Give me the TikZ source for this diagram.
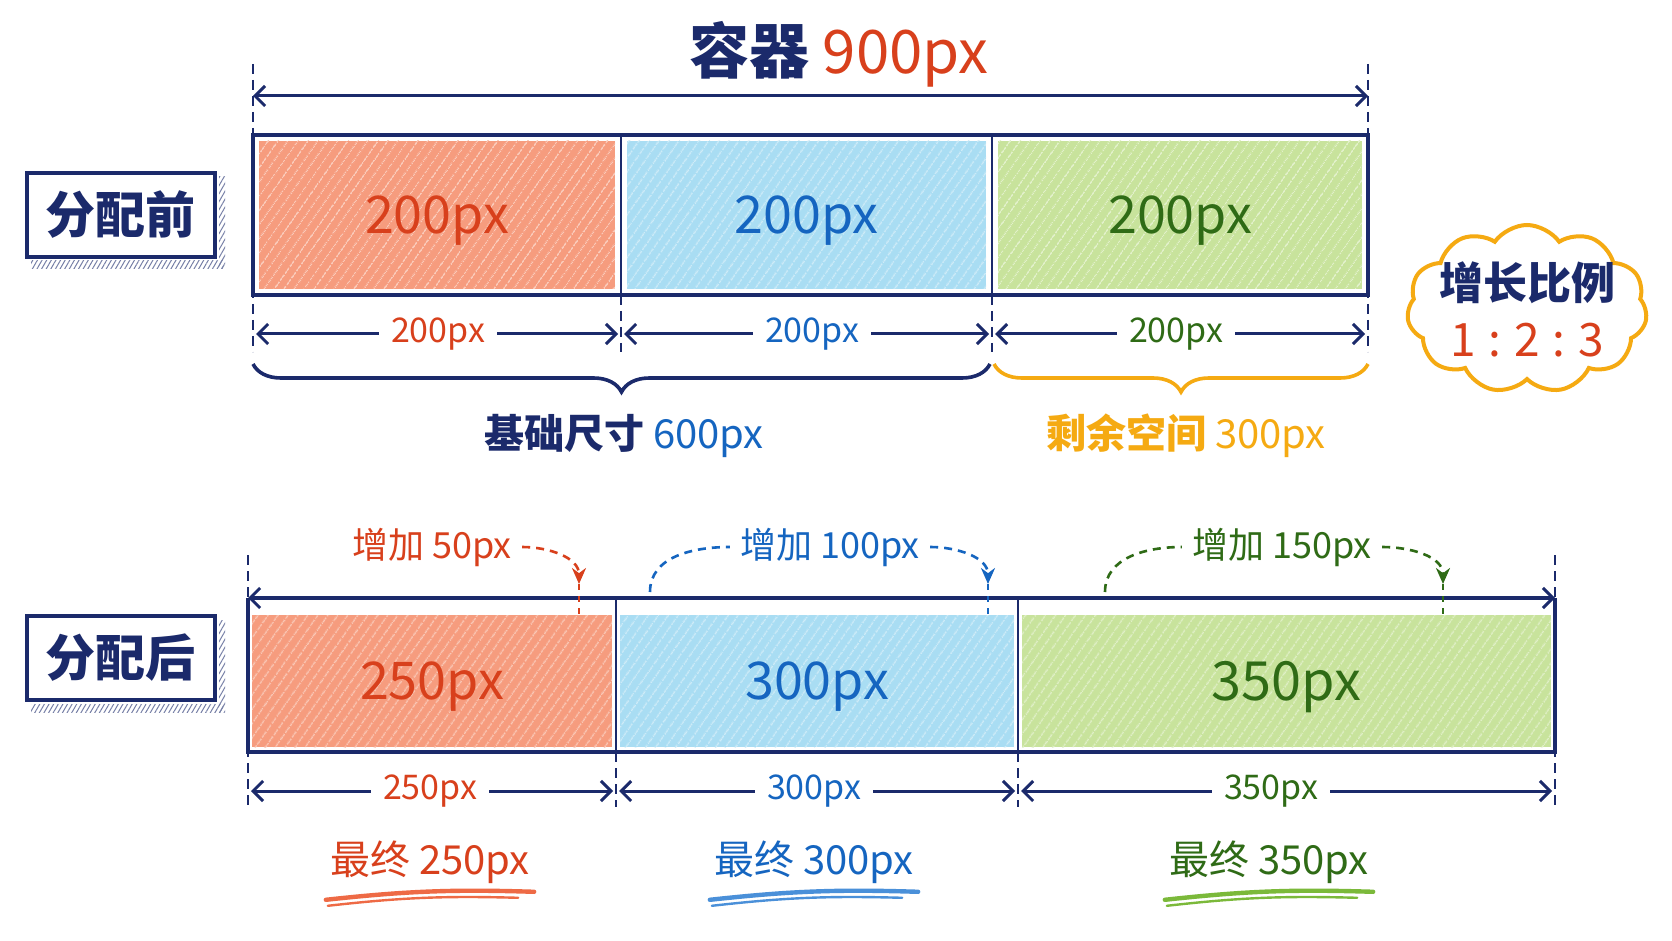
\documentclass[tikz,border=0pt]{standalone}
\usepackage{fontspec}
\setmainfont{Noto Sans CJK SC}
\usetikzlibrary{arrows.meta,decorations.pathreplacing,shapes.symbols,patterns.meta}

\definecolor{navy}{HTML}{1B2A6B}
\definecolor{redtext}{HTML}{D8401C}
\definecolor{bluetext}{HTML}{1565C0}
\definecolor{greentext}{HTML}{2F6B16}
\definecolor{orangeline}{HTML}{F5AA12}
\definecolor{redfill}{HTML}{F69C7E}
\definecolor{bluefill}{HTML}{A9DDF3}
\definecolor{greenfill}{HTML}{C8E39C}
\definecolor{redstroke}{HTML}{EE6A45}
\definecolor{bluestroke}{HTML}{4A90D9}
\definecolor{greenstroke}{HTML}{7BB93A}

\begin{document}
\begin{tikzpicture}[
    x=0.5pt, y=-0.5pt,
    seg/.style={fill=#1, inner sep=0pt, text depth=0pt, font=\fontsize{26}{28}\selectfont,
        postaction={pattern={Lines[angle=55, distance=4pt, line width=0.6pt]},
            pattern color=#1!55!white}},
    frame/.style={navy, line width=2pt},
    divider/.style={navy, line width=1.2pt},
    dimarrow/.style={navy, line width=1.5pt, arrows={-Straight Barb[length=5pt, width=10pt, line width=1.5pt]}},
    bothbarb/.style={navy, arrows={Straight Barb[length=5pt, width=10pt, line width=1.5pt]-Straight Barb[length=5pt, width=10pt, line width=1.5pt]}},
    dimlabel/.style={inner sep=6pt, font=\fontsize{17}{19}\selectfont},
    guide/.style={navy, line width=0.8pt, dash pattern=on 5pt off 3pt},
    tag/.style={draw=navy, line width=2pt, fill=white, minimum width=94pt,
        minimum height=42pt, font=\fontsize{25}{27}\selectfont\bfseries, text=navy},
    shadowbox/.style={pattern={Lines[angle=60, distance=2pt, line width=0.5pt]}, pattern color=navy!60},
    bracket/.style={decorate, decoration={brace, amplitude=14pt, mirror}, line width=1.8pt},
    growarrow/.style={line width=1.3pt, dash pattern=on 4pt off 3pt, -{Stealth[length=8pt, width=7pt]}},
    growstart/.style={line width=1.3pt, dash pattern=on 4pt off 3pt},
    growmark/.style={line width=0.9pt, dash pattern=on 3pt off 3pt},
    growlabel/.style={inner sep=5pt, font=\fontsize{18}{20}\selectfont},
    final/.style={inner sep=2pt, font=\fontsize{20}{22}\selectfont},
    ustroke/.style={line width=2.2pt, line cap=round},
    ustrokethin/.style={line width=1.2pt, line cap=round}
]
    \useasboundingbox (0,0) rectangle (1672,941);
    \fill[white] (0,0) rectangle (1672,941);

    \node[font=\fontsize{30}{32}\selectfont\bfseries, text=navy] (title) at (839,54)
        {容器 \textcolor{redtext}{\mdseries 900px}};

    \coordinate (tl) at (253,96);
    \coordinate (tr) at (1368,96);
    \draw[bothbarb, line width=1.5pt] (tl) -- (tr);

    \draw[guide] (253,64) -- (253,352);
    \draw[guide] (1368,64) -- (1368,352);
    \draw[guide] (621,295) -- (621,352);
    \draw[guide] (992,295) -- (992,352);

    \node[tag] (before) at (121,215) {分配前};
    \fill[shadowbox] ([xshift=3pt, yshift=-1pt]before.south west) rectangle ([xshift=3pt, yshift=-5pt]before.south east);
    \fill[shadowbox] ([xshift=1pt, yshift=-5pt]before.south east) rectangle ([xshift=4pt, yshift=-3pt]before.north east);

    \node[seg=redfill, minimum width=178pt, minimum height=74pt, text=redtext] (s1) at (437,215) {200px};
    \node[seg=bluefill, minimum width=179.5pt, minimum height=74pt, text=bluetext] (s2) at (806.5,215) {200px};
    \node[seg=greenfill, minimum width=182pt, minimum height=74pt, text=greentext] (s3) at (1180,215) {200px};
    \draw[frame] (253,135) rectangle (1368,295);
    \draw[divider] (621,135) -- (621,295);
    \draw[divider] (992,135) -- (992,295);

    \coordinate (a0) at (256,334);
    \coordinate (a1) at (618,334);
    \coordinate (a2) at (624,334);
    \coordinate (a3) at (989,334);
    \coordinate (a4) at (995,334);
    \coordinate (a5) at (1365,334);
    \node[dimlabel, text=redtext] (d1) at (438,334) {200px};
    \node[dimlabel, text=bluetext] (d2) at (812,334) {200px};
    \node[dimlabel, text=greentext] (d3) at (1176,334) {200px};
    \draw[dimarrow] (d1.west) -- (a0);
    \draw[dimarrow] (d1.east) -- (a1);
    \draw[dimarrow] (d2.west) -- (a2);
    \draw[dimarrow] (d2.east) -- (a3);
    \draw[dimarrow] (d3.west) -- (a4);
    \draw[dimarrow] (d3.east) -- (a5);

    \draw[bracket, navy] (253,364) -- (990,364);
    \draw[bracket, orangeline] (994,364) -- (1368,364);
    \node[font=\fontsize{20}{22}\selectfont\bfseries, text=navy] (base) at (624,436)
        {基础尺寸 \textcolor{bluetext}{\mdseries 600px}};
    \node[font=\fontsize{20}{22}\selectfont\bfseries, text=orangeline] (rest) at (1186,436)
        {剩余空间 {\mdseries 300px}};

    \node[cloud, cloud puffs=11, cloud puff arc=110, aspect=1.4, draw=orangeline, line width=2pt,
        fill=white, minimum width=120pt, minimum height=84pt, inner sep=0pt] (ratio) at (1527,309) {};
    \node[font=\fontsize{22}{24}\selectfont\bfseries, text=navy] (ratiotitle) at (1527,283) {增长比例};
    \node[font=\fontsize{23}{25}\selectfont, text=redtext] (ratiovalue) at (1527,340) {1\;:\;2\;:\;3};

    \draw[guide] (248,555) -- (248,807);
    \draw[guide] (1555,555) -- (1555,807);
    \draw[guide] (616,752) -- (616,807);
    \draw[guide] (1018,752) -- (1018,807);

    \node[tag] (after) at (121,658) {分配后};
    \fill[shadowbox] ([xshift=3pt, yshift=-1pt]after.south west) rectangle ([xshift=3pt, yshift=-5pt]after.south east);
    \fill[shadowbox] ([xshift=1pt, yshift=-5pt]after.south east) rectangle ([xshift=4pt, yshift=-3pt]after.north east);

    \node[seg=redfill, minimum width=180pt, minimum height=66pt, text=redtext] (f1) at (432,681) {250px};
    \node[seg=bluefill, minimum width=197pt, minimum height=66pt, text=bluetext] (f2) at (817,681) {300px};
    \node[seg=greenfill, minimum width=264.5pt, minimum height=66pt, text=greentext, font=\fontsize{27}{29}\selectfont] (f3) at (1286.5,681) {350px};
    \coordinate (bl) at (248,598);
    \coordinate (br) at (1555,598);
    \draw[frame] (bl) -- (248,752) -- (1555,752) -- (br);
    \draw[bothbarb, line width=2pt] (bl) -- (br);
    \draw[divider] (616,598) -- (616,752);
    \draw[divider] (1018,598) -- (1018,752);

    \coordinate (c0) at (251,791);
    \coordinate (c1) at (613,791);
    \coordinate (c2) at (619,791);
    \coordinate (c3) at (1015,791);
    \coordinate (c4) at (1021,791);
    \coordinate (c5) at (1552,791);
    \node[dimlabel, text=redtext] (e1) at (430,791) {250px};
    \node[dimlabel, text=bluetext] (e2) at (814,791) {300px};
    \node[dimlabel, text=greentext] (e3) at (1271,791) {350px};
    \draw[dimarrow] (e1.west) -- (c0);
    \draw[dimarrow] (e1.east) -- (c1);
    \draw[dimarrow] (e2.west) -- (c2);
    \draw[dimarrow] (e2.east) -- (c3);
    \draw[dimarrow] (e3.west) -- (c4);
    \draw[dimarrow] (e3.east) -- (c5);

    \node[growlabel, text=redtext] (g1) at (432,547) {增加 50px};
    \node[growlabel, text=bluetext] (g2) at (830,547) {增加 100px};
    \node[growlabel, text=greentext] (g3) at (1282,547) {增加 150px};
    \coordinate (m1) at (579,584);
    \coordinate (m1b) at (579,614);
    \coordinate (n2) at (650,592);
    \coordinate (m2) at (988,584);
    \coordinate (m2b) at (988,614);
    \coordinate (n3) at (1105,592);
    \coordinate (m3) at (1443,584);
    \coordinate (m3b) at (1443,614);
    \draw[growarrow, redtext] (g1.east) to[out=0, in=90] (m1);
    \draw[growmark, redtext] (m1) -- (m1b);
    \draw[growstart, bluetext] (n2) to[out=90, in=180] (g2.west);
    \draw[growarrow, bluetext] (g2.east) to[out=0, in=90] (m2);
    \draw[growmark, bluetext] (m2) -- (m2b);
    \draw[growstart, greentext] (n3) to[out=90, in=180] (g3.west);
    \draw[growarrow, greentext] (g3.east) to[out=0, in=90] (m3);
    \draw[growmark, greentext] (m3) -- (m3b);

    \node[final, text=redtext] (h1) at (430,862) {最终 250px};
    \node[final, text=bluetext] (h2) at (814,862) {最终 300px};
    \node[final, text=greentext] (h3) at (1269,862) {最终 350px};
    \draw[ustroke, redstroke] ([yshift=-6pt]h1.south west) to[bend left=4] ([yshift=-2pt]h1.south east);
    \draw[ustrokethin, redstroke] ([xshift=1pt, yshift=-9pt]h1.south west) to[bend left=4] ([xshift=-8pt, yshift=-5pt]h1.south east);
    \draw[ustroke, bluestroke] ([yshift=-6pt]h2.south west) to[bend left=4] ([yshift=-2pt]h2.south east);
    \draw[ustrokethin, bluestroke] ([xshift=1pt, yshift=-9pt]h2.south west) to[bend left=4] ([xshift=-8pt, yshift=-5pt]h2.south east);
    \draw[ustroke, greenstroke] ([yshift=-6pt]h3.south west) to[bend left=4] ([yshift=-2pt]h3.south east);
    \draw[ustrokethin, greenstroke] ([xshift=1pt, yshift=-9pt]h3.south west) to[bend left=4] ([xshift=-8pt, yshift=-5pt]h3.south east);
\end{tikzpicture}
\end{document}
